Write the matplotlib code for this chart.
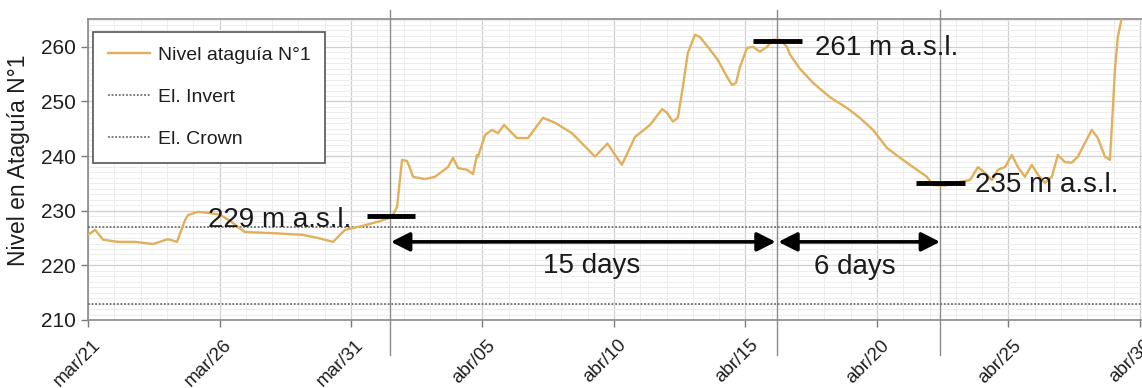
import matplotlib
matplotlib.use("Agg")
import matplotlib.pyplot as plt
import matplotlib.dates as mdates
import matplotlib.transforms as mtransforms
from matplotlib.ticker import FuncFormatter, MultipleLocator
from matplotlib.lines import Line2D
import pandas as pd

plt.rcParams["font.family"] = ["Liberation Sans", "DejaVu Sans"]

# Reservoir level at cofferdam No.1, days counted from 21 March
start_date = "2021-03-21"
day_offset = [
    0.00, 0.27, 0.57, 1.14, 1.79, 2.47, 3.04, 3.38, 3.69, 3.80, 4.18, 4.56,
    5.00, 5.45, 5.70, 5.97, 7.00, 8.14, 8.75, 9.32, 9.77, 10.42, 11.03, 11.48,
    11.56, 11.75, 11.94, 12.13, 12.24, 12.36, 12.81, 13.19, 13.69, 13.88, 14.07,
    14.41, 14.64, 14.79, 14.83, 15.10, 15.36, 15.59, 15.82, 16.31, 16.73, 17.30,
    17.76, 18.40, 19.28, 19.75, 20.30, 20.80, 21.37, 21.83, 22.02, 22.24, 22.43,
    22.62, 22.81, 23.08, 23.27, 23.65, 23.95, 24.30, 24.49, 24.64, 24.79, 25.06,
    25.29, 25.55, 25.82, 26.05, 26.31, 26.58, 26.69, 27.07, 27.57, 28.21, 28.86,
    29.35, 29.85, 30.38, 30.99, 31.52, 31.90, 32.13, 32.60, 33.16, 33.54, 33.84,
    34.11, 34.37, 34.60, 34.87, 35.13, 35.36, 35.63, 35.89, 36.12, 36.39, 36.65,
    36.88, 37.15, 37.41, 37.64, 37.91, 38.17, 38.40, 38.67, 38.86, 38.97, 39.05,
    39.16, 39.32,
]
level = [
    225.6, 226.5, 224.7, 224.3, 224.3, 223.9, 224.8, 224.3, 228.3, 229.2, 229.8, 229.6,
    229.3, 228.0, 227.0, 226.1, 225.9, 225.6, 225.0, 224.3, 226.5, 227.2, 228.0, 228.7,
    228.9, 230.7, 239.3, 239.1, 237.8, 236.2, 235.8, 236.2, 238.0, 239.7, 237.8,
    237.5, 236.7, 240.2, 239.9, 243.9, 244.8, 244.2, 245.7, 243.3, 243.3, 247.0,
    246.1, 244.2, 239.9, 242.3, 238.4, 243.5, 245.7, 248.6, 247.9, 246.3, 247.0,
    252.7, 258.9, 262.2, 261.8, 259.5, 257.6, 254.5, 253.0, 253.4, 256.3, 259.8,
    260.0, 259.1, 260.0, 261.3, 261.3, 260.0, 258.6, 256.0, 253.4, 250.8, 248.8,
    247.0, 244.8, 241.5, 239.3, 237.5, 236.2, 234.7, 234.6, 235.3, 235.6, 238.0,
    236.9, 235.6, 237.5, 238.0, 240.2, 238.0, 236.2, 238.4, 236.6, 235.1, 236.2,
    240.2, 238.9, 238.8, 239.9, 242.4, 244.8, 243.3, 239.9, 239.3, 248.5, 255.8,
    261.8, 265.5,
]

el_invert = 227.0
el_crown = 213.0

# Event markers (days from start) and the levels reached at them
event_days = [11.5, 26.2, 32.4]
event_levels = [229, 261, 235]
event_labels = ["229 m a.s.l.", "261 m a.s.l.", "235 m a.s.l."]
span_labels = ["15 days", "6 days"]

tick_dates = ["2021-03-21", "2021-03-26", "2021-03-31", "2021-04-05", "2021-04-10",
              "2021-04-15", "2021-04-20", "2021-04-25", "2021-04-30"]
month_abbr = {3: "mar", 4: "abr"}

legend_labels = ["Nivel ataguía N°1", "El. Invert", "El. Crown"]
y_label = "Nivel en Ataguía N°1"

# ---------------------------------------------------------------------------
base = pd.Timestamp(start_date)
to_date = lambda d: base + pd.Timedelta(days=d)
dates = [to_date(d) for d in day_offset]

fig = plt.figure(figsize=(11.42, 3.88), dpi=100)
ax = fig.add_axes([0.0771, 0.1753, 0.9229, 0.7758])

line_col = "#E2B05A"
ax.plot(dates, level, color=line_col, lw=1.7, zorder=4, solid_joinstyle="round")

dot_style = dict(color="#6E6E6E", lw=1.3, linestyle=(0, (1, 1)))
ax.axhline(el_invert, zorder=3, **dot_style)
ax.axhline(el_crown, zorder=3, **dot_style)

ax.set_xlim(to_date(0), to_date(40.08))
ax.set_ylim(210, 265.1)

# grid
ax.yaxis.set_major_locator(MultipleLocator(10))
ax.yaxis.set_minor_locator(MultipleLocator(1))
ax.set_xticks([pd.Timestamp(t) for t in tick_dates])
ax.xaxis.set_minor_locator(mdates.DayLocator())
ax.grid(which="major", color="#CFCFCF", lw=0.9, zorder=0)
ax.grid(which="minor", color="#EDEDED", lw=0.7, zorder=0)
ax.set_axisbelow(True)

fmt = FuncFormatter(lambda v, pos: "{}/{:02d}".format(
    month_abbr[mdates.num2date(v).month], mdates.num2date(v).day))
ax.xaxis.set_major_formatter(fmt)

ax.tick_params(axis="both", which="major", labelsize=15, colors="#7A7A7A",
               labelcolor="#1E1E1E", length=5, width=1)
ax.tick_params(axis="x", which="major", labelsize=13.5, pad=7)
ax.tick_params(axis="both", which="minor", length=0)
shift = mtransforms.ScaledTranslation(4 / 100, 0, fig.dpi_scale_trans)
for lab in ax.get_xticklabels():
    lab.set_rotation(45)
    lab.set_ha("right")
    lab.set_va("top")
    lab.set_rotation_mode("anchor")
    lab.set_transform(lab.get_transform() + shift)

for side in ["left", "bottom", "top"]:
    ax.spines[side].set_color("#8A8A8A")
    ax.spines[side].set_linewidth(1.2)
ax.spines["right"].set_visible(False)

ax.set_ylabel(y_label, fontsize=16.5, color="#1E1E1E")
ax.yaxis.set_label_coords(-0.055, 0.53)

# event vertical lines, running slightly past the axes
for d in event_days:
    ax.axvline(to_date(d), ymin=-0.115, ymax=1.03, color="#8C8C8C", lw=1.0,
               clip_on=False, zorder=2)

# level markers with labels
for d, lv in zip(event_days, event_levels):
    ax.plot([to_date(d - 0.9), to_date(d + 0.95)], [lv, lv],
            color="black", lw=3.5, solid_capstyle="butt", zorder=6)

ax.text(to_date(4.56), event_levels[0] - 2.0, event_labels[0], fontsize=20,
        ha="left", va="baseline", color="#1A1A1A", zorder=7)
ax.text(to_date(27.64), event_levels[1] - 2.5, event_labels[1], fontsize=20,
        ha="left", va="baseline", color="#1A1A1A", zorder=7)
ax.text(to_date(33.73), event_levels[2] - 1.6, event_labels[2], fontsize=20,
        ha="left", va="baseline", color="#1A1A1A", zorder=7)

# duration arrows
arrow_y = 224.3
arrow_props = dict(arrowstyle="<|-|>,head_length=0.75,head_width=0.38",
                   color="black", lw=2.6, shrinkA=0, shrinkB=0,
                   mutation_scale=15)
ax.annotate("", xy=(to_date(event_days[1] - 0.05), arrow_y),
            xytext=(to_date(event_days[0] + 0.02), arrow_y),
            arrowprops=arrow_props, zorder=6)
ax.annotate("", xy=(to_date(event_days[2]), arrow_y),
            xytext=(to_date(event_days[1] + 0.05), arrow_y),
            arrowprops=arrow_props, zorder=6)
ax.text(to_date(19.14), 218.6, span_labels[0], fontsize=20, ha="center",
        va="baseline", color="#1A1A1A")
ax.text(to_date(29.16), 218.4, span_labels[1], fontsize=20, ha="center",
        va="baseline", color="#1A1A1A")

handles = [Line2D([], [], color=line_col, lw=1.7),
           Line2D([], [], **dot_style),
           Line2D([], [], **dot_style)]
leg = ax.legend(handles, legend_labels, loc="upper left",
                bbox_to_anchor=(0.005, 0.957), borderaxespad=0, fontsize=14,
                frameon=True, fancybox=False, framealpha=1, edgecolor="#555555",
                handlelength=2.15, handletextpad=0.42, labelspacing=1.25,
                borderpad=0.75)
leg.get_frame().set_linewidth(1.2)
leg.set_zorder(8)
for t in leg.get_texts():
    t.set_color("#1E1E1E")

fig.savefig("out.png", dpi=100)
